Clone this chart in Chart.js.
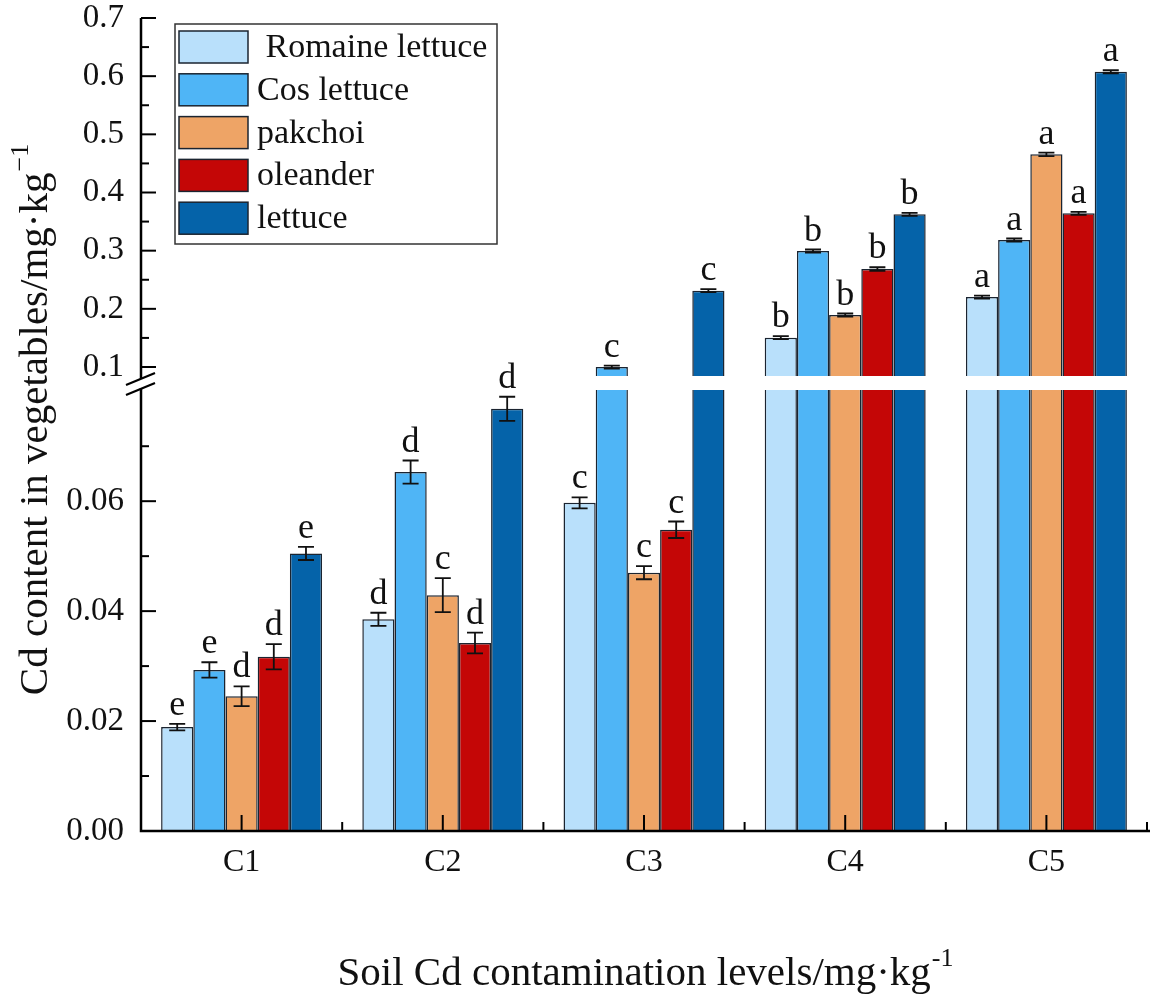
<!DOCTYPE html>
<html>
<head>
<meta charset="utf-8">
<script src="https://cdn.jsdelivr.net/npm/chart.js@4.4.1/dist/chart.umd.min.js"></script>
<style>
  html, body { margin: 0; padding: 0; background: #fff; }
  #wrap { width: 1150px; height: 1000px; }
</style>
</head>
<body>
<div id="wrap"><canvas id="barChart" width="1150" height="1000"></canvas></div>
<script>
// categories and series (Cd content, mg/kg)
var categories = ['C1', 'C2', 'C3', 'C4', 'C5'];
var seriesNames = [' Romaine lettuce', 'Cos lettuce', 'pakchoi', 'oleander', 'lettuce'];
var seriesColors = ['#b9e0fb', '#4fb5f6', '#eea466', '#c40606', '#0563a9'];

var romaine  = [0.0189, 0.0385, 0.0597, 0.1504, 0.2203];
var cos      = [0.0293, 0.0653, 0.0998, 0.2994, 0.3183];
var pakchoi  = [0.0245, 0.0429, 0.0470, 0.1894, 0.4657];
var oleander = [0.0317, 0.0342, 0.0548, 0.2685, 0.3642];
var lettuce  = [0.0505, 0.0768, 0.2312, 0.3625, 0.6076];

var romaineErr  = [0.0006, 0.0012, 0.0010, 0.0015, 0.0015];
var cosErr      = [0.0014, 0.0021, 0.0015, 0.0025, 0.0020];
var pakchoiErr  = [0.0018, 0.0031, 0.0012, 0.0015, 0.0030];
var oleanderErr = [0.0023, 0.0019, 0.0015, 0.0030, 0.0015];
var lettuceErr  = [0.0012, 0.0022, 0.0025, 0.0015, 0.0025];

var romaineSig  = ['e', 'd', 'c', 'b', 'a'];
var cosSig      = ['e', 'd', 'c', 'b', 'a'];
var pakchoiSig  = ['d', 'c', 'c', 'b', 'a'];
var oleanderSig = ['d', 'd', 'c', 'b', 'a'];
var lettuceSig  = ['e', 'd', 'c', 'b', 'a'];

// broken y axis: lower and upper segment
var lowTicks  = [0, 0.02, 0.04, 0.06];
var highTicks = [0.1, 0.2, 0.3, 0.4, 0.5, 0.6, 0.7];
var lowMax  = 0.0815;
var highMin = 0.0725;
var highMax = 0.7;

var values = [romaine, cos, pakchoi, oleander, lettuce];
var errors = [romaineErr, cosErr, pakchoiErr, oleanderErr, lettuceErr];
var sigs   = [romaineSig, cosSig, pakchoiSig, oleanderSig, lettuceSig];

var serif = "'Liberation Serif', 'Times New Roman', serif";

var datasets = [];
values.forEach(function (vals, i) {
    datasets.push({
        label: seriesNames[i],
        data: vals.map(function (v) { return Math.min(v, lowMax); }),
        yAxisID: 'yLow',
        stack: 's' + i,
        backgroundColor: seriesColors[i],
        borderColor: '#1b2430',
        borderWidth: 1.5,
        borderSkipped: 'bottom'
    });
});
values.forEach(function (vals, i) {
    datasets.push({
        label: seriesNames[i] + ' (upper)',
        data: vals.map(function (v) { return v > highMin ? [highMin, v] : null; }),
        yAxisID: 'yHigh',
        stack: 's' + i,
        backgroundColor: seriesColors[i],
        borderColor: '#1b2430',
        borderWidth: 1.5,
        borderSkipped: 'bottom'
    });
});

function scaleFor(chart, v) {
    return v > lowMax ? chart.scales.yHigh : chart.scales.yLow;
}

var decorPlugin = {
    id: 'decor',
    afterDatasetsDraw: function (chart) {
        var ctx = chart.ctx;
        var area = chart.chartArea;
        var xs = chart.scales.x, yl = chart.scales.yLow, yh = chart.scales.yHigh;
        var breakY = yh.bottom;
        ctx.save();

        // white gap across the bars at the break
        ctx.fillStyle = '#ffffff';
        ctx.fillRect(area.left + 1, breakY - 7, area.right - area.left + 5, 14);

        // error bars and significance letters
        ctx.strokeStyle = '#111';
        ctx.lineWidth = 1.8;
        ctx.fillStyle = '#111';
        ctx.font = '36px ' + serif;
        ctx.textAlign = 'center';
        ctx.textBaseline = 'alphabetic';
        values.forEach(function (vals, i) {
            var meta = chart.getDatasetMeta(i);
            vals.forEach(function (v, j) {
                var x = meta.data[j].x;
                var s = scaleFor(chart, v);
                var e = errors[i][j];
                var yTop = s.getPixelForValue(v + e);
                var yBot = s.getPixelForValue(v - e);
                if (yBot - yTop < 3) { yTop = s.getPixelForValue(v) - 1.5; yBot = yTop + 3; }
                ctx.beginPath();
                ctx.moveTo(x, yTop); ctx.lineTo(x, yBot);
                ctx.moveTo(x - 8, yTop); ctx.lineTo(x + 8, yTop);
                ctx.moveTo(x - 8, yBot); ctx.lineTo(x + 8, yBot);
                ctx.stroke();
                ctx.fillText(sigs[i][j], x, yTop - 9);
            });
        });

        // axis lines
        ctx.strokeStyle = '#000';
        ctx.lineWidth = 2.5;
        ctx.beginPath();
        ctx.moveTo(area.left, area.top);
        ctx.lineTo(area.left, area.bottom);
        ctx.lineTo(chart.width, area.bottom);
        ctx.stroke();

        // inward ticks on y
        ctx.lineWidth = 2;
        function tick(s, v, len) {
            var y = s.getPixelForValue(v);
            ctx.beginPath();
            ctx.moveTo(area.left, y);
            ctx.lineTo(area.left + len, y);
            ctx.stroke();
        }
        highTicks.forEach(function (v, k) {
            tick(yh, v, 15);
            if (k < highTicks.length - 1) tick(yh, (v + highTicks[k + 1]) / 2, 8);
        });
        lowTicks.forEach(function (v, k) {
            tick(yl, v, 15);
            var step = k < lowTicks.length - 1 ? lowTicks[k + 1] - v : lowTicks[1] - lowTicks[0];
            tick(yl, v + step / 2, 8);
        });

        // inward ticks on x
        categories.forEach(function (c, j) {
            var x = xs.getPixelForValue(j);
            ctx.beginPath();
            ctx.moveTo(x, area.bottom);
            ctx.lineTo(x, area.bottom - 16);
            ctx.stroke();
            var xb = x + (xs.getPixelForValue(1) - xs.getPixelForValue(0)) / 2;
            ctx.beginPath();
            ctx.moveTo(xb, area.bottom);
            ctx.lineTo(xb, area.bottom - 9);
            ctx.stroke();
        });

        // axis break marks
        ctx.fillStyle = '#fff';
        ctx.fillRect(area.left - 3, breakY - 4, 6, 9);
        ctx.strokeStyle = '#000';
        ctx.lineWidth = 2.2;
        ctx.beginPath();
        ctx.moveTo(area.left - 15, breakY + 2); ctx.lineTo(area.left + 14, breakY - 10);
        ctx.moveTo(area.left - 15, breakY + 12); ctx.lineTo(area.left + 14, breakY);
        ctx.stroke();

        // legend box
        var lx = 175, ly = 24, lw = 322, lh = 220;
        ctx.lineWidth = 1.5;
        ctx.strokeStyle = '#333';
        ctx.fillStyle = '#fff';
        ctx.fillRect(lx, ly, lw, lh);
        ctx.strokeRect(lx, ly, lw, lh);
        ctx.font = '34px ' + serif;
        ctx.textAlign = 'left';
        ctx.textBaseline = 'middle';
        seriesNames.forEach(function (name, i) {
            var ry = ly + 7 + i * 42.8;
            ctx.fillStyle = seriesColors[i];
            ctx.fillRect(lx + 4, ry, 69, 32);
            ctx.strokeStyle = '#1b2430';
            ctx.strokeRect(lx + 4, ry, 69, 32);
            ctx.fillStyle = '#111';
            ctx.fillText(name, lx + 82, ry + 17);
        });

        // axis titles with superscript
        function titleText(main, sup, cx, cy, rot) {
            ctx.save();
            ctx.translate(cx, cy);
            if (rot) ctx.rotate(-Math.PI / 2);
            ctx.font = '41px ' + serif;
            var w1 = ctx.measureText(main).width;
            ctx.font = '26px ' + serif;
            var w2 = ctx.measureText(sup).width;
            var x0 = -(w1 + w2) / 2;
            ctx.fillStyle = '#111';
            ctx.textAlign = 'left';
            ctx.textBaseline = 'alphabetic';
            ctx.font = '41px ' + serif;
            ctx.fillText(main, x0, 0);
            ctx.font = '26px ' + serif;
            ctx.fillText(sup, x0 + w1 + 1, -19);
            ctx.restore();
        }
        titleText('Soil Cd contamination levels/mg\u00b7kg', '-1', 645, 985, false);
        titleText('Cd content in vegetables/mg\u00b7kg', '\u22121', 47, 420, true);

        ctx.restore();
    }
};

function fixY(s) {
    s.width = 141;
    s.paddingTop = 0;
    s.paddingBottom = 0;
}

var ctx = document.getElementById('barChart');
var myChart = new Chart(ctx, {
    type: 'bar',
    data: { labels: categories, datasets: datasets },
    options: {
        responsive: false,
        animation: false,
        devicePixelRatio: 1,
        categoryPercentage: 0.8,
        barPercentage: 1.0,
        layout: { padding: { top: 18, right: 3, left: 0, bottom: 0 } },
        plugins: {
            legend: { display: false },
            tooltip: { enabled: false }
        },
        scales: {
            x: {
                type: 'category',
                grid: { display: false, drawTicks: false },
                border: { display: false },
                ticks: { color: '#111', font: { family: serif, size: 32 }, padding: 12 },
                afterFit: function (s) { s.height = 169; s.paddingLeft = 0; s.paddingRight = 0; }
            },
            yLow: {
                type: 'linear',
                position: 'left',
                stack: 'y',
                stackWeight: 448,
                stacked: false,
                min: 0,
                max: lowMax,
                grid: { display: false, drawTicks: false },
                border: { display: false },
                ticks: {
                    color: '#111', font: { family: serif, size: 33 }, padding: 17, autoSkip: false,
                    callback: function (v) { return v.toFixed(2); }
                },
                afterBuildTicks: function (s) { s.ticks = lowTicks.map(function (v) { return { value: v }; }); },
                afterFit: fixY
            },
            yHigh: {
                type: 'linear',
                position: 'left',
                stack: 'y',
                stackWeight: 365,
                stacked: false,
                min: highMin,
                max: highMax,
                grid: { display: false, drawTicks: false },
                border: { display: false },
                ticks: {
                    color: '#111', font: { family: serif, size: 33 }, padding: 17, autoSkip: false,
                    callback: function (v) { return v.toFixed(1); }
                },
                afterBuildTicks: function (s) { s.ticks = highTicks.map(function (v) { return { value: v }; }); },
                afterFit: fixY
            }
        }
    },
    plugins: [decorPlugin]
});
</script>
</body>
</html>
